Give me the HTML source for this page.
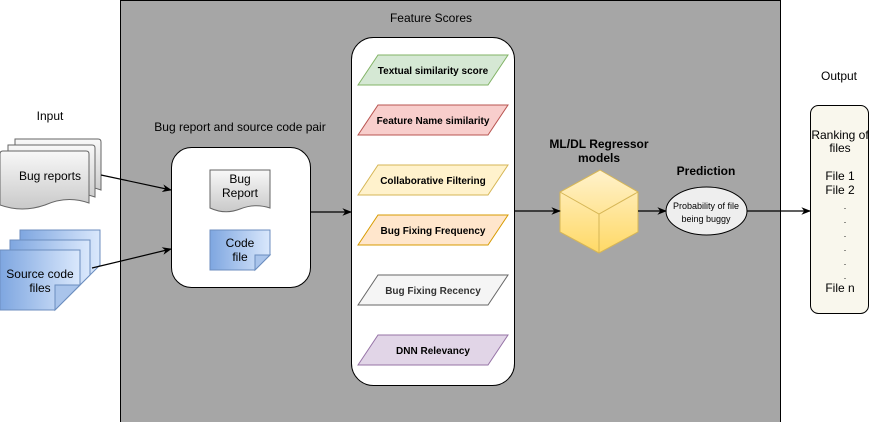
<!DOCTYPE html>
<html><head><meta charset="utf-8"><style>
body{margin:0;background:#fff;}
svg{display:block;font-family:"Liberation Sans",Arial,sans-serif;}
</style></head><body>
<svg width="871" height="422" viewBox="0 0 871 422" xmlns="http://www.w3.org/2000/svg">
<defs>
<linearGradient id="gg" x1="0" y1="0" x2="0" y2="1"><stop offset="0" stop-color="#f8f8f8"/><stop offset="1" stop-color="#c9c9c9"/></linearGradient>
<linearGradient id="bg" x1="0" y1="0" x2="1" y2="0"><stop offset="0" stop-color="#7ea6e0"/><stop offset="1" stop-color="#dae8fc"/></linearGradient>
<linearGradient id="yg" x1="0" y1="0" x2="0" y2="1"><stop offset="0" stop-color="#fff2cc"/><stop offset="1" stop-color="#ffd966"/></linearGradient>
<marker id="ar" viewBox="0 0 10 10" refX="9" refY="5" markerWidth="8" markerHeight="8" orient="auto"><path d="M0,1 L10,5 L0,9 L3,5 Z" fill="#000"/></marker>
</defs>
<rect x="120.5" y="0.5" width="660" height="422" fill="#a6a6a6" stroke="#000"/>
<text x="431" y="22" font-size="12" text-anchor="middle">Feature Scores</text>
<text x="50" y="120" font-size="12" text-anchor="middle">Input</text>
<text x="240" y="131" font-size="12" text-anchor="middle">Bug report and source code pair</text>
<text x="599" y="148" font-size="12" text-anchor="middle" font-weight="bold">ML/DL Regressor</text>
<text x="599" y="162" font-size="12" text-anchor="middle" font-weight="bold">models</text>
<text x="706" y="175" font-size="12" text-anchor="middle" font-weight="bold">Prediction</text>
<text x="839" y="80" font-size="12" text-anchor="middle">Output</text>
<!-- bug reports stack -->
<g stroke="#666" fill="url(#gg)">
<path d="M15,139 H98 Q101,139 101,142 V190 Q80,182 58,192 Q35,200 15,192 Z"/>
<path d="M8,145 H92 Q95,145 95,148 V197 Q73,189 51,199 Q28,207 8,199 Z"/>
<path d="M3,151 H86 Q89,151 89,154 V203 Q67,195 45,205 Q22,213 0,205 V154 Q0,151 3,151 Z"/>
</g>
<text x="50" y="180" font-size="12" text-anchor="middle">Bug reports</text>
<!-- source code stack -->
<g stroke="#6c8ebf" fill="url(#bg)">
<path d="M20,230 H100 V265 L75,290 H20 Z"/>
<path d="M10,240 H90 V275 L65,300 H10 Z"/>
<path d="M0,250 H80 V285 L55,310 H0 Z"/>
<path d="M80,285 L55,310 V285 Z" fill="#a9c4eb"/>
</g>
<text x="40" y="278" font-size="12" text-anchor="middle">Source code</text>
<text x="40" y="292" font-size="12" text-anchor="middle">files</text>
<!-- pair box -->
<rect x="171.5" y="147.5" width="139" height="140" rx="20" fill="#fff" stroke="#000"/>
<path d="M210,170 H270 V208 Q255,203 240,209 Q225,215 210,208 Z" fill="url(#gg)" stroke="#666"/>
<text x="240" y="183" font-size="12" text-anchor="middle">Bug</text>
<text x="240" y="197" font-size="12" text-anchor="middle">Report</text>
<path d="M210,230 H270 V255 L255,270 H210 Z" fill="url(#bg)" stroke="#6c8ebf"/>
<path d="M270,255 L255,270 V255 Z" fill="#a9c4eb" stroke="#6c8ebf"/>
<text x="240" y="247" font-size="12" text-anchor="middle">Code</text>
<text x="240" y="261" font-size="12" text-anchor="middle">file</text>
<!-- feature box -->
<rect x="351.5" y="37.5" width="163" height="348" rx="22" fill="#fff" stroke="#000"/>
<g font-size="10" font-weight="bold" text-anchor="middle">
<path d="M358,85 L378,55 H508 L488,85 Z" fill="#d5e8d4" stroke="#82b366"/>
<text x="433" y="74">Textual similarity score</text>
<path d="M358,135 L378,105 H508 L488,135 Z" fill="#f8cecc" stroke="#b85450"/>
<text x="433" y="124">Feature Name similarity</text>
<path d="M358,195 L378,165 H508 L488,195 Z" fill="#fff2cc" stroke="#d6b656"/>
<text x="433" y="184">Collaborative Filtering</text>
<path d="M358,245 L378,215 H508 L488,245 Z" fill="#ffe6cc" stroke="#d79b00"/>
<text x="433" y="234">Bug Fixing Frequency</text>
<path d="M358,305 L378,275 H508 L488,305 Z" fill="#f5f5f5" stroke="#666"/>
<text x="433" y="294" fill="#333">Bug Fixing Recency</text>
<path d="M358,365 L378,335 H508 L488,365 Z" fill="#e1d5e7" stroke="#9673a6"/>
<text x="433" y="354">DNN Relevancy</text>
</g>
<!-- cube -->
<g stroke="#d6b656" fill="url(#yg)">
<path d="M600,170 L638,192 V232 L599,253 L560,232 V192 Z"/>
<path d="M560,192 L599,214 L638,192 M599,214 V253" fill="none"/>
</g>
<!-- ellipse -->
<ellipse cx="706.5" cy="211" rx="40.5" ry="24" fill="#eeeeee" stroke="#000"/>
<text x="706" y="209" font-size="9" text-anchor="middle">Probability of file</text>
<text x="706" y="222" font-size="9" text-anchor="middle">being buggy</text>
<!-- output -->
<rect x="810.5" y="105.5" width="58" height="208" rx="8" fill="#f9f7ed" stroke="#000"/>
<g font-size="12" text-anchor="middle">
<text x="840" y="139">Ranking of</text>
<text x="840" y="152">files</text>
<text x="840" y="180">File 1</text>
<text x="840" y="194">File 2</text>
<text x="845" y="209" font-size="9">.</text>
<text x="845" y="223" font-size="9">.</text>
<text x="845" y="237" font-size="9">.</text>
<text x="845" y="251" font-size="9">.</text>
<text x="845" y="265" font-size="9">.</text>
<text x="845" y="279" font-size="9">.</text>
<text x="840" y="292">File n</text>
</g>
<!-- arrows -->
<g stroke="#000" stroke-width="1.2" marker-end="url(#ar)" fill="none">
<line x1="101" y1="175" x2="171" y2="190"/>
<line x1="92" y1="268" x2="171" y2="249"/>
<line x1="310" y1="212" x2="351" y2="212"/>
<line x1="515" y1="211" x2="560" y2="211"/>
<line x1="638" y1="211" x2="666" y2="211"/>
<line x1="747" y1="211" x2="810" y2="211"/>
</g>
</svg>
</body></html>
